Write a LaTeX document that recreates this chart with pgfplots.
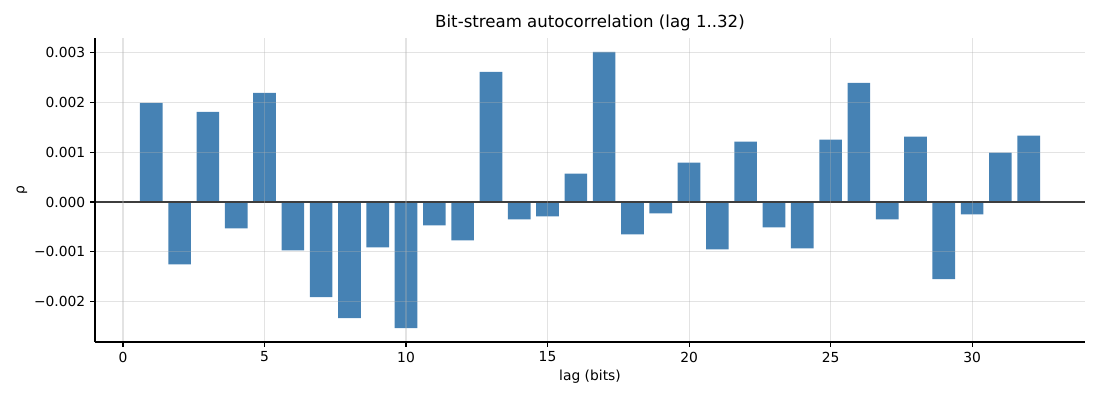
\documentclass[border=0pt]{standalone}
\usepackage{pgfplots}
\pgfplotsset{compat=1.18}
\usepackage{fontspec}
\setmainfont{DejaVu Sans}
\definecolor{steel}{HTML}{4682B4}
\definecolor{gridc}{HTML}{B0B0B0}
\pgfplotstableread{
lag rho
1 0.00199
2 -0.00125
3 0.00181
4 -0.00053
5 0.00219
6 -0.00097
7 -0.00191
8 -0.00233
9 -0.00091
10 -0.00253
11 -0.00047
12 -0.00077
13 0.00261
14 -0.00035
15 -0.00029
16 0.00057
17 0.00301
18 -0.00065
19 -0.00023
20 0.00079
21 -0.00095
22 0.00121
23 -0.00051
24 -0.00093
25 0.00125
26 0.00239
27 -0.00035
28 0.00131
29 -0.00155
30 -0.00025
31 0.00099
32 0.00133
}\datatable
\begin{document}
\begin{tikzpicture}
\useasboundingbox (-68.4bp,-41.76bp) rectangle (723.6bp,246.24bp);
\begin{axis}[
  at={(0,0)}, anchor=south west,
  scale only axis,
  width=712.8bp, height=218.88bp,
  xmin=-0.99, xmax=33.99,
  ymin=-0.00281, ymax=0.00329,
  axis lines*=left,
  axis line style={-, line width=0.8bp, black},
  axis on top,
  tick align=outside,
  major tick length=3.5bp,
  tick style={black, line width=0.8bp},
  xtick={0,5,10,15,20,25,30},
  xticklabels={0,5,10,15,20,25,30},
  ytick={-0.002,-0.001,0,0.001,0.002,0.003},
  yticklabels={−0.002,−0.001,0.000,0.001,0.002,0.003},
  scaled y ticks=false,
  grid=major,
  major grid style={gridc, opacity=0.35, line width=0.8bp},
  ticklabel style={font=\fontsize{10}{12}\selectfont},
  title={Bit-stream autocorrelation (lag 1..32)},
  title style={font=\fontsize{12}{14}\selectfont, at={(axis description cs:0.5,1.049)}, anchor=center, yshift=-6pt},
  xlabel={lag (bits)},
  xlabel style={font=\fontsize{10}{12}\selectfont, at={(axis description cs:0.5,-0.1151)}, anchor=center},
  ylabel={ρ},
  ylabel style={font=\fontsize{10}{12}\selectfont, at={(axis description cs:-0.0738,0.5)}, anchor=center},
  clip=false,
]
\addplot[ybar, bar width=0.8, bar shift=0pt, fill=steel, draw=none] table[x=lag, y=rho] {\datatable};
\draw[black, line width=0.8bp] ({rel axis cs:0,0}|-{axis cs:0,0}) -- ({rel axis cs:1,0}|-{axis cs:0,0});
\end{axis}
\end{tikzpicture}
\end{document}
